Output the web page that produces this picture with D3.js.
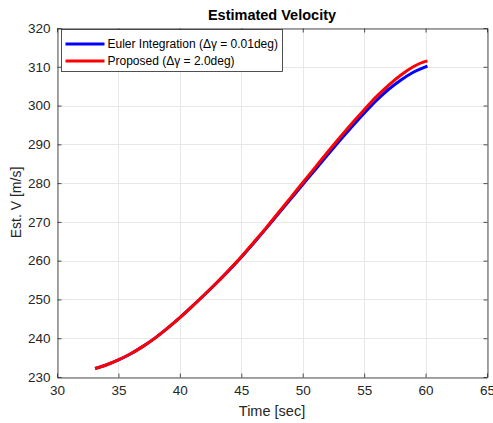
<!DOCTYPE html>
<html lang="en">
<head>
    <meta charset="UTF-8">
    <title>Estimated Velocity</title>
    <style>
        body { margin: 0; background: #fff; }
        svg { display: block; font-family: "Liberation Sans", Arial, sans-serif; }
    </style>
</head>
<body>
    <div id="chart"></div>
    <script src="https://d3js.org/d3.v7.min.js"></script>
    <script>
        // time axis (sec)
        const time = [33.1, 34, 35, 36, 37, 38, 39, 40, 41, 42, 43, 44, 45, 46, 47, 48, 49, 50,
            51, 52, 53, 54, 55, 56, 57, 58, 59, 60, 60.15];
        // Euler integration (dγ = 0.01deg)
        const eulerV = [232.2, 233.1, 234.4, 236.0, 237.9, 240.1, 242.6, 245.3, 248.2, 251.2, 254.3, 257.5,
            260.9, 264.5, 268.2, 272.0, 275.8, 279.6, 283.4, 287.2, 290.9, 294.5, 298.0, 301.3, 304.2,
            306.6, 308.6, 310.0, 310.2];
        // proposed (dγ = 2.0deg)
        const proposedV = [232.2, 233.1, 234.4, 236.0, 237.9, 240.1, 242.6, 245.3, 248.2, 251.2, 254.3, 257.6,
            261.0, 264.7, 268.4, 272.3, 276.2, 280.1, 284.0, 287.9, 291.7, 295.4, 298.9, 302.3, 305.3,
            307.9, 310.0, 311.4, 311.5];
        const xTicks = [30, 35, 40, 45, 50, 55, 60, 65];
        const yTicks = [230, 240, 250, 260, 270, 280, 290, 300, 310, 320];

        const series = [
            { name: 'Euler Integration (\u0394\u03b3 = 0.01deg)', values: eulerV, color: '#0000ff' },
            { name: 'Proposed (\u0394\u03b3 = 2.0deg)', values: proposedV, color: '#ff0000' }
        ];

        const width = 493, height = 423;
        const margin = { left: 57, right: 6, top: 28, bottom: 46 };
        const axisColor = '#262626';

        const svg = d3.select('#chart').append('svg')
            .attr('width', width)
            .attr('height', height);

        const x = d3.scaleLinear().domain([30, 65]).range([margin.left, width - margin.right]);
        const y = d3.scaleLinear().domain([230, 320]).range([height - margin.bottom, margin.top]);

        // grid
        svg.append('g').selectAll('line').data(xTicks).enter().append('line')
            .attr('x1', d => Math.round(x(d)) + 0.5).attr('x2', d => Math.round(x(d)) + 0.5)
            .attr('y1', y(230)).attr('y2', y(320))
            .attr('stroke', '#e8e8e8');
        svg.append('g').selectAll('line').data(yTicks).enter().append('line')
            .attr('y1', d => Math.round(y(d)) + 0.5).attr('y2', d => Math.round(y(d)) + 0.5)
            .attr('x1', x(30)).attr('x2', x(65))
            .attr('stroke', '#e8e8e8');

        // curves
        const line = d3.line()
            .x((d, i) => x(time[i]))
            .y(d => y(d))
            .curve(d3.curveMonotoneX);

        svg.append('g').selectAll('path').data(series).enter().append('path')
            .attr('d', d => line(d.values))
            .attr('fill', 'none')
            .attr('stroke', d => d.color)
            .attr('stroke-width', 3)
            .attr('stroke-linejoin', 'round');

        // axes (box with inward ticks on all sides)
        const bottomAxis = d3.axisBottom(x).tickValues(xTicks).tickSizeInner(-4).tickSizeOuter(0).tickPadding(8);
        const topAxis = d3.axisTop(x).tickValues(xTicks).tickSizeInner(-4).tickSizeOuter(0).tickFormat('');
        const leftAxis = d3.axisLeft(y).tickValues(yTicks).tickSizeInner(-4).tickSizeOuter(0).tickPadding(7);
        const rightAxis = d3.axisRight(y).tickValues(yTicks).tickSizeInner(-4).tickSizeOuter(0).tickFormat('');

        const gb = svg.append('g').attr('transform', `translate(0,${Math.round(y(230)) + 0.5})`).call(bottomAxis);
        const gt = svg.append('g').attr('transform', `translate(0,${Math.round(y(320)) + 0.5})`).call(topAxis);
        const gl = svg.append('g').attr('transform', `translate(${Math.round(x(30)) + 0.5},0)`).call(leftAxis);
        const gr = svg.append('g').attr('transform', `translate(${Math.round(x(65)) + 0.5},0)`).call(rightAxis);

        [gb, gt, gl, gr].forEach(g => {
            g.selectAll('path, line').attr('stroke', axisColor).attr('stroke-width', 0.8);
            g.selectAll('text').attr('fill', axisColor).style('font-size', '13.5px')
                .style('font-family', '"Liberation Sans", Arial, sans-serif');
        });

        // title and labels
        svg.append('text')
            .attr('x', (x(30) + x(65)) / 2).attr('y', 20)
            .attr('text-anchor', 'middle')
            .style('font-size', '14.5px').style('font-weight', 'bold')
            .attr('fill', '#000')
            .text('Estimated Velocity');

        svg.append('text')
            .attr('x', (x(30) + x(65)) / 2).attr('y', 416)
            .attr('text-anchor', 'middle')
            .style('font-size', '14.5px')
            .attr('fill', axisColor)
            .text('Time [sec]');

        svg.append('text')
            .attr('transform', `translate(21,${(y(230) + y(320)) / 2}) rotate(-90)`)
            .attr('text-anchor', 'middle')
            .style('font-size', '14px')
            .attr('fill', axisColor)
            .text('Est. V [m/s]');

        // legend
        const legend = svg.append('g').attr('transform', 'translate(61.5,29.5)');
        legend.append('rect')
            .attr('width', 221).attr('height', 42)
            .attr('fill', '#fff')
            .attr('stroke', axisColor).attr('stroke-width', 0.8);
        const item = legend.selectAll('.item').data(series).enter().append('g')
            .attr('class', 'item')
            .attr('transform', (d, i) => `translate(0,${14.5 + i * 17})`);
        item.append('line')
            .attr('x1', 4).attr('x2', 43)
            .attr('stroke', d => d.color).attr('stroke-width', 3);
        item.append('text')
            .attr('x', 46).attr('dy', '0.35em')
            .style('font-size', '12px')
            .attr('fill', '#000')
            .text(d => d.name);
    </script>
</body>
</html>
